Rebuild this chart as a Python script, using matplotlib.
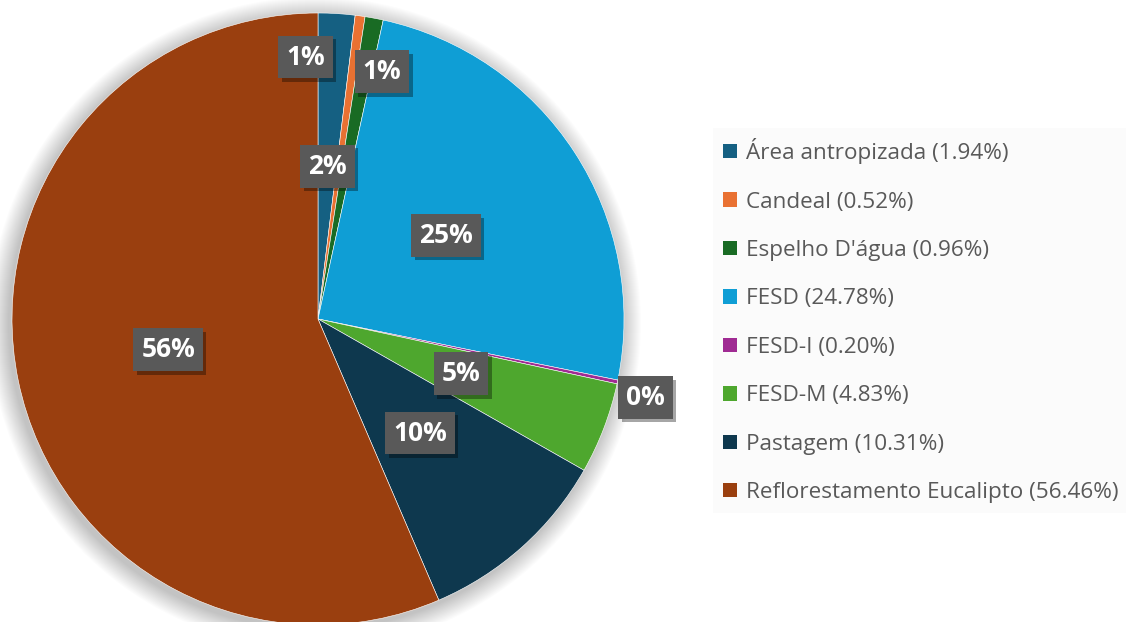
import numpy as np
import matplotlib.pyplot as plt
import matplotlib.patheffects as pe
from matplotlib.patches import Circle, Patch

# data
categories = ["Área antropizada", "Candeal", "Espelho D'água", "FESD", "FESD-I",
              "FESD-M", "Pastagem", "Reflorestamento Eucalipto"]
shares = [1.94, 0.52, 0.96, 24.78, 0.20, 4.83, 10.31, 56.46]
colors = ["#156082", "#E97132", "#196B24", "#0F9ED5", "#A02B93",
          "#4EA72E", "#0E384E", "#9A3F0F"]

# label layout: (distance as fraction of radius, angle nudge in degrees)
label_pos = [(0.50, 0), (0.857, -10.7), (0.834, 3.9), (0.50, 0), (1.10, 1.6),
             (0.50, 0), (0.50, 0), (0.50, 0)]

W, H = 1126, 622
fig = plt.figure(figsize=(W / 100, H / 100), dpi=100)
ax = fig.add_axes([0, 0, 1, 1])

cx, cy, R = 318, H - 319, 306

# soft glow behind the pie
for i in range(20, 0, -1):
    ax.add_patch(Circle((cx - 3, cy - 4), R + i, color='k', alpha=0.012, lw=0, zorder=0))

wedges, _, autotexts = ax.pie(
    shares, colors=colors, center=(cx, cy), radius=R, startangle=90,
    counterclock=False, autopct='%.0f%%', pctdistance=0.5,
    wedgeprops=dict(linewidth=0.4, edgecolor='white'),
    textprops=dict(color='white', fontsize=19, fontweight='bold', family='Open Sans'),
    frame=True)
ax.set_xlim(0, W)
ax.set_ylim(0, H)
ax.axis('off')

total = sum(shares)
cum = 0
for t, v, (d, nudge) in zip(autotexts, shares, label_pos):
    mid = 360 * (cum + v / 2) / total + nudge
    cum += v
    a = np.deg2rad(mid)
    t.set_position((cx + d * R * np.sin(a), cy + d * R * np.cos(a)))
    t.set_ha('center')
    t.set_va('center')
    t.set_zorder(5)
    t.set_bbox(dict(boxstyle='square,pad=0.3', facecolor='#595959', edgecolor='none'))
    t.get_bbox_patch().set_path_effects(
        [pe.SimplePatchShadow(offset=(2.5, -2.5), shadow_rgbFace='k', alpha=0.35), pe.Normal()])

handles = [Patch(facecolor=c, edgecolor='none') for c in colors]
labels = [f"{c} ({v:.2f}%)" for c, v in zip(categories, shares)]
leg = fig.legend(handles, labels, loc='upper left', bbox_to_anchor=(713 / W, 1 - 128 / H),
                 frameon=True, fancybox=False, labelcolor='#595959',
                 handlelength=0.6, handleheight=0.6, handletextpad=0.4,
                 labelspacing=1.22, borderpad=0.45, borderaxespad=0,
                 prop=dict(family='Open Sans', size=16.2))
leg.get_frame().set_facecolor('#fafafa')
leg.get_frame().set_edgecolor('none')

fig.savefig('out.png', dpi=100)
